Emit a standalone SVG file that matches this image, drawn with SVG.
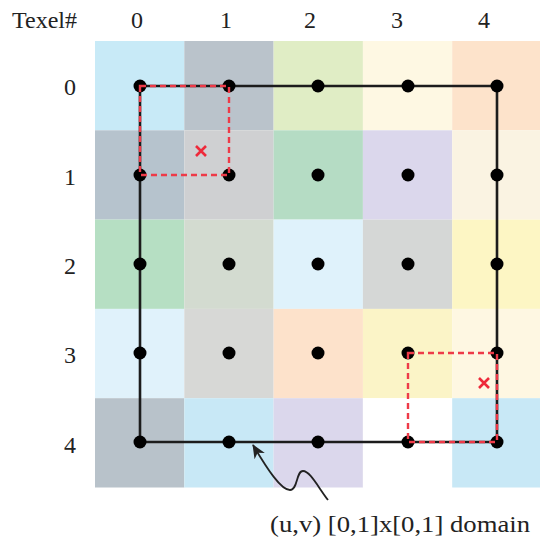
<svg xmlns="http://www.w3.org/2000/svg" width="540" height="541" viewBox="0 0 540 541">
<style>
.lbl{font-family:"Liberation Serif","Times New Roman",serif;font-size:24px;fill:#222}
.num{text-anchor:middle}
.frame{fill:none;stroke:#1c1c1c;stroke-width:2.6}
.red{fill:none;stroke:#ee3a48;stroke-width:2.4;stroke-dasharray:6 4}
.dot{fill:#000}
.x{stroke:#ee2a3a;stroke-width:2.6;fill:none}
</style>
<defs>
<marker id="ah" viewBox="0 0 14 14" refX="13" refY="7" markerWidth="14" markerHeight="14" markerUnits="userSpaceOnUse" orient="auto">
<path d="M0,1 L14,7 L0,13 L4,7 Z" fill="#222"/>
</marker>
</defs>
<rect width="540" height="541" fill="#fff"/>
<g id="cells">
<rect x="95" y="41" width="89.3" height="89.3" fill="#c8eaf7"/>
<rect x="184.3" y="41" width="89.3" height="89.3" fill="#bac3cb"/>
<rect x="273.6" y="41" width="89.3" height="89.3" fill="#e0edc5"/>
<rect x="362.9" y="41" width="89.3" height="89.3" fill="#fef8e3"/>
<rect x="452.2" y="41" width="89.3" height="89.3" fill="#fde3cb"/>
<rect x="95" y="130.3" width="89.3" height="89.3" fill="#b6c3cd"/>
<rect x="184.3" y="130.3" width="89.3" height="89.3" fill="#cfd0d2"/>
<rect x="273.6" y="130.3" width="89.3" height="89.3" fill="#b5dcc4"/>
<rect x="362.9" y="130.3" width="89.3" height="89.3" fill="#dbd7ec"/>
<rect x="452.2" y="130.3" width="89.3" height="89.3" fill="#faf3e2"/>
<rect x="95" y="219.6" width="89.3" height="89.3" fill="#b6dfc3"/>
<rect x="184.3" y="219.6" width="89.3" height="89.3" fill="#d3dbd0"/>
<rect x="273.6" y="219.6" width="89.3" height="89.3" fill="#dff2fb"/>
<rect x="362.9" y="219.6" width="89.3" height="89.3" fill="#d5d7d6"/>
<rect x="452.2" y="219.6" width="89.3" height="89.3" fill="#fdf6c4"/>
<rect x="95" y="308.9" width="89.3" height="89.3" fill="#e0f2fb"/>
<rect x="184.3" y="308.9" width="89.3" height="89.3" fill="#d7d8d6"/>
<rect x="273.6" y="308.9" width="89.3" height="89.3" fill="#fde2cb"/>
<rect x="362.9" y="308.9" width="89.3" height="89.3" fill="#fbf4c7"/>
<rect x="452.2" y="308.9" width="89.3" height="89.3" fill="#fef7e2"/>
<rect x="95" y="398.2" width="89.3" height="89.3" fill="#b8c2ca"/>
<rect x="184.3" y="398.2" width="89.3" height="89.3" fill="#c8e8f6"/>
<rect x="273.6" y="398.2" width="89.3" height="89.3" fill="#dbd7ec"/>
<rect x="362.9" y="398.2" width="89.3" height="89.3" fill="#ffffff"/>
<rect x="452.2" y="398.2" width="89.3" height="89.3" fill="#c8e8f6"/>
</g>
<g id="labels">
<text class="lbl" x="12" y="28">Texel#</text>
<text class="lbl num" x="137" y="28">0</text>
<text class="lbl num" x="226" y="28">1</text>
<text class="lbl num" x="310" y="28">2</text>
<text class="lbl num" x="397" y="28">3</text>
<text class="lbl num" x="484" y="28">4</text>
<text class="lbl num" x="70" y="95">0</text>
<text class="lbl num" x="70" y="185">1</text>
<text class="lbl num" x="70" y="274">2</text>
<text class="lbl num" x="70" y="363">3</text>
<text class="lbl num" x="70" y="453">4</text>
</g>
<g id="connectors">
<path class="frame" d="M140,86 H497 V442 H140 Z"/>
<path d="M328,500 C318,487 310,471 303,471 C296,471 298,490 290,490 C281,490 268,470 253,445" fill="none" stroke="#222" stroke-width="1.8" marker-end="url(#ah)"/>
</g>
<g id="dots">
<circle class="dot" cx="140" cy="86" r="6.5"/>
<circle class="dot" cx="229" cy="86" r="6.5"/>
<circle class="dot" cx="318" cy="86" r="6.5"/>
<circle class="dot" cx="408" cy="86" r="6.5"/>
<circle class="dot" cx="497" cy="86" r="6.5"/>
<circle class="dot" cx="140" cy="175" r="6.5"/>
<circle class="dot" cx="229" cy="175" r="6.5"/>
<circle class="dot" cx="318" cy="175" r="6.5"/>
<circle class="dot" cx="408" cy="175" r="6.5"/>
<circle class="dot" cx="497" cy="175" r="6.5"/>
<circle class="dot" cx="140" cy="264" r="6.5"/>
<circle class="dot" cx="229" cy="264" r="6.5"/>
<circle class="dot" cx="318" cy="264" r="6.5"/>
<circle class="dot" cx="408" cy="264" r="6.5"/>
<circle class="dot" cx="497" cy="264" r="6.5"/>
<circle class="dot" cx="140" cy="353" r="6.5"/>
<circle class="dot" cx="229" cy="353" r="6.5"/>
<circle class="dot" cx="318" cy="353" r="6.5"/>
<circle class="dot" cx="408" cy="353" r="6.5"/>
<circle class="dot" cx="497" cy="353" r="6.5"/>
<circle class="dot" cx="140" cy="442" r="6.5"/>
<circle class="dot" cx="229" cy="442" r="6.5"/>
<circle class="dot" cx="318" cy="442" r="6.5"/>
<circle class="dot" cx="408" cy="442" r="6.5"/>
<circle class="dot" cx="497" cy="442" r="6.5"/>
</g>
<g id="sample-areas">
<path class="red" d="M140,86 H229 V175 H140 Z"/>
<path class="red" d="M408,353 H497 V442 H408 Z"/>
<path class="x" d="M196,146 L206,156 M206,146 L196,156"/>
<path class="x" d="M479,378 L489,388 M489,378 L479,388"/>
</g>
<text class="lbl" x="270" y="532" textLength="260" lengthAdjust="spacingAndGlyphs">(u,v) [0,1]x[0,1] domain</text>
</svg>
